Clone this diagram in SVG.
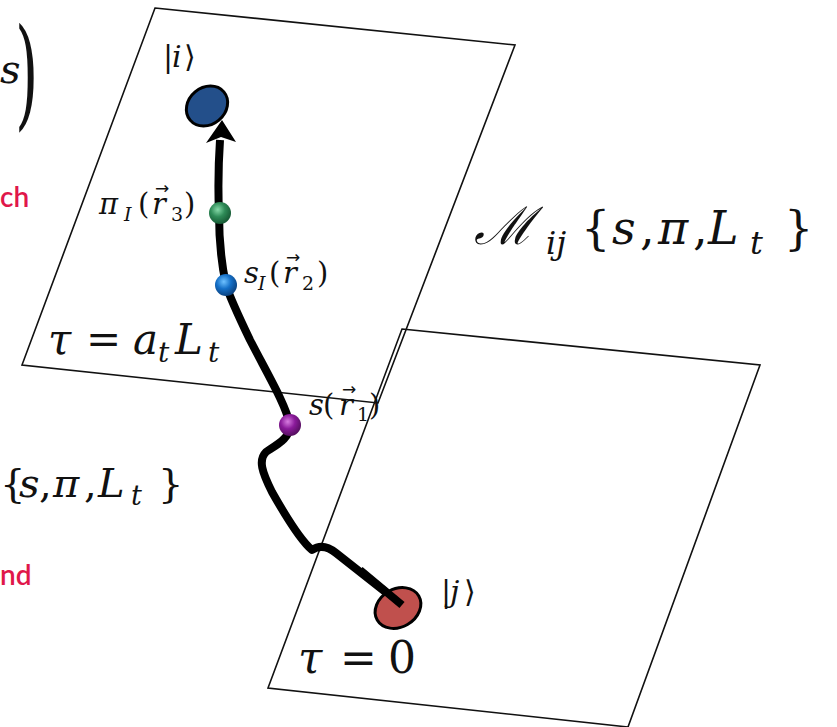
<svg xmlns="http://www.w3.org/2000/svg" width="837" height="727" viewBox="0 0 837 727">
<style>
.m{font-family:"DejaVu Serif","Liberation Serif",serif;fill:#111}
.i{font-style:italic}
.ac{font-family:"DejaVu Sans",sans-serif;fill:#111;font-size:17px}
.red{font-family:"Lato","Noto Sans",sans-serif;fill:#e0174a;font-size:28px;font-weight:600}
.plane{fill:none;stroke:#111;stroke-width:1.6}
.path{fill:none;stroke:#000;stroke-width:8;stroke-linejoin:round}
</style>
<defs>
<radialGradient id="gG" cx="0.4" cy="0.35" r="0.65"><stop offset="0" stop-color="#86d9a8"/><stop offset="0.5" stop-color="#2e8b57"/><stop offset="1" stop-color="#175a35"/></radialGradient>
<radialGradient id="gB" cx="0.4" cy="0.35" r="0.65"><stop offset="0" stop-color="#6ec1ff"/><stop offset="0.5" stop-color="#1570c8"/><stop offset="1" stop-color="#0b4280"/></radialGradient>
<radialGradient id="gP" cx="0.4" cy="0.35" r="0.65"><stop offset="0" stop-color="#d77be0"/><stop offset="0.5" stop-color="#8a1a9a"/><stop offset="1" stop-color="#560f60"/></radialGradient>
</defs>

<g id="left-fragments">
<text class="m i" x="0" y="83" font-size="40">s</text>
<text class="m" x="15" y="114" font-size="120" transform="translate(15 114) scale(0.5 1) translate(-15 -114)" font-family="Liberation Serif">)</text>
<text class="red" x="0" y="207">ch</text>
<text class="m" font-size="40"><tspan x="0" y="497">{</tspan><tspan class="i" x="19" y="497">s</tspan><tspan x="39" y="497">,</tspan><tspan class="i" x="53" y="497">π</tspan><tspan x="84" y="497">,</tspan><tspan class="i" x="98" y="497">L</tspan><tspan class="i" font-size="27" x="131" y="505">t</tspan><tspan x="158" y="497">}</tspan></text>
<text class="red" x="0" y="585">nd</text>
</g>

<g id="plane-top">
<polygon class="plane" points="155,8 515,45 378,403 22,365"/>
<text class="m" font-size="42"><tspan class="i" x="48" y="354">τ</tspan><tspan x="86" y="354">=</tspan><tspan class="i" x="133" y="354">a</tspan><tspan class="i" font-size="28" x="158" y="362">t</tspan><tspan class="i" x="175" y="354">L</tspan><tspan class="i" font-size="28" x="208" y="362">t</tspan></text>
</g>

<g id="plane-bottom">
<polygon class="plane" points="402,329 760,365 628,727 268,688"/>
<text class="m" font-size="44"><tspan class="i" x="298" y="673">τ</tspan><tspan x="340" y="673">=</tspan><tspan x="388" y="673">0</tspan></text>
</g>

<g id="label-M">
<text class="m" font-size="46"><tspan class="i" font-size="52" x="474" y="244">ℳ</tspan><tspan class="i" font-size="32" x="546" y="254">ij</tspan><tspan x="581" y="244">{</tspan><tspan class="i" x="612" y="244">s</tspan><tspan x="640" y="244">,</tspan><tspan class="i" x="658" y="244">π</tspan><tspan x="693" y="244">,</tspan><tspan class="i" x="708" y="244">L</tspan><tspan class="i" font-size="32" x="750" y="254">t</tspan><tspan x="784" y="244">}</tspan></text>
</g>

<g id="connectors">
<path class="path" d="M402,605 L336,553 C326,545 318,546 312,550 C300,540 285,515 272,492 C262,472 258,460 266,452 C278,444 290,438 290,425 C286,405 268,375 250,340 C238,315 230,298 226,285 C221,262 219,240 219,213 C218,190 218,170 220,140"/>
<polygon points="222,120 236,142 221,137 206,143" fill="#000"/>
</g>

<g id="node-i">
<ellipse cx="207" cy="106" rx="22" ry="18.5" transform="rotate(-40 207 106)" fill="#234f8a" stroke="#000" stroke-width="3"/>
<text class="m" font-size="30"><tspan x="163" y="67">|</tspan><tspan class="i" x="172" y="67">i</tspan><tspan x="184" y="67">⟩</tspan></text>
</g>

<g id="node-j">
<ellipse cx="398" cy="608" rx="24" ry="19" transform="rotate(-30 398 608)" fill="#c0504d" stroke="#000" stroke-width="3"/>
<path class="path" d="M402,605 L360,570"/>
<text class="m" font-size="30"><tspan x="441" y="602">|</tspan><tspan class="i" x="450" y="602">j</tspan><tspan x="464" y="602">⟩</tspan></text>
</g>

<g id="node-pi">
<circle cx="220" cy="213" r="11" fill="url(#gG)"/>
<text class="m" font-size="29"><tspan class="i" x="99" y="214">π</tspan><tspan class="i" font-size="19" x="124" y="221">I</tspan><tspan x="138" y="214">(</tspan><tspan class="i" x="152" y="214">r</tspan><tspan font-size="19" x="171" y="221">3</tspan><tspan x="184" y="214">)</tspan></text>
<text class="ac" x="155" y="194">→</text>
</g>

<g id="node-s2">
<circle cx="226" cy="285" r="11" fill="url(#gB)"/>
<text class="m" font-size="29"><tspan class="i" x="244" y="283">s</tspan><tspan class="i" font-size="19" x="258" y="290">I</tspan><tspan x="269" y="283">(</tspan><tspan class="i" x="283" y="283">r</tspan><tspan font-size="19" x="302" y="290">2</tspan><tspan x="317" y="283">)</tspan></text>
<text class="ac" x="286" y="263">→</text>
</g>

<g id="node-s1">
<circle cx="290" cy="425" r="11" fill="url(#gP)"/>
<text class="m" font-size="29"><tspan class="i" x="309" y="415">s</tspan><tspan x="323" y="415">(</tspan><tspan class="i" x="339" y="415">r</tspan><tspan font-size="19" x="357" y="421">1</tspan><tspan x="369" y="415">)</tspan></text>
<text class="ac" x="342" y="395">→</text>
</g>
</svg>
